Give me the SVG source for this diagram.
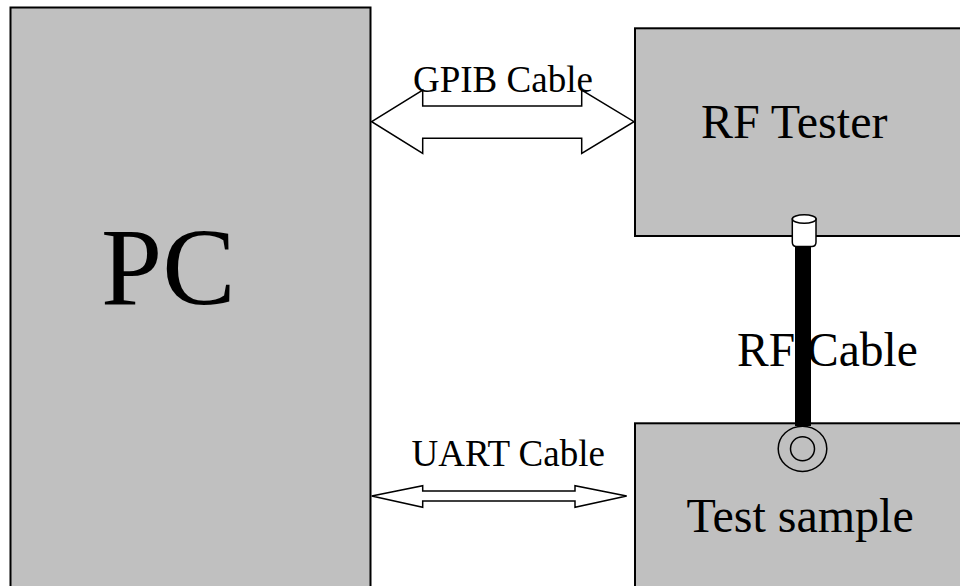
<svg xmlns="http://www.w3.org/2000/svg" width="960" height="586" viewBox="0 0 960 586">
<style>
.box{fill:#c0c0c0;stroke:#000;stroke-width:2}
.t{font-family:"Liberation Serif","Times New Roman",serif;fill:#000}
.arrow{fill:#fff;stroke:#000;stroke-width:1.5;stroke-linejoin:miter}
</style>
<rect width="960" height="586" fill="#fff"/>
<g id="pc">
<rect class="box" x="10.5" y="7.5" width="360" height="600"/>
<text class="t" x="101" y="304" font-size="110">PC</text>
</g>
<g id="rf-tester">
<rect class="box" x="635" y="28.3" width="340" height="207.7"/>
<text class="t" x="701" y="137.5" font-size="48">RF Tester</text>
</g>
<g id="test-sample">
<rect class="box" x="635" y="423.3" width="340" height="200"/>
<text class="t" x="686.5" y="531.5" font-size="48">Test sample</text>
</g>
<g id="connectors">
<path class="arrow" d="M371.7,121.7 L422.7,90 L422.7,106 L581.7,106 L581.7,90 L634,121.7 L581.7,153.3 L581.7,138.3 L422.7,138.3 L422.7,153.3 Z"/>
<text class="t" x="413" y="91.5" font-size="37">GPIB Cable</text>
<path class="arrow" d="M371.7,496 L422.7,485.7 L422.7,491 L575,491 L575,485.7 L626.7,496 L575,507.3 L575,501 L422.7,501 L422.7,507.3 Z"/>
<text class="t" x="411.5" y="466" font-size="37">UART Cable</text>
<g id="rf-cable">
<rect x="795" y="240" width="16" height="186" fill="#000"/>
<path d="M792.3,219 L792.3,242 Q792.3,246.5 796.5,246.5 L811.8,246.5 Q816,246.5 816,242 L816,219 Z" fill="#fff" stroke="#000" stroke-width="1.5"/>
<ellipse cx="804.2" cy="219" rx="11.85" ry="4.2" fill="#fff" stroke="#000" stroke-width="1.5"/>
<ellipse cx="802.5" cy="448.8" rx="24.3" ry="22.6" fill="none" stroke="#000" stroke-width="1.5"/>
<ellipse cx="802.5" cy="448.8" rx="12" ry="12" fill="none" stroke="#000" stroke-width="1.5"/>
<text class="t" x="737" y="366" font-size="47.5">RF Cable</text>
</g>
</g>
</svg>
